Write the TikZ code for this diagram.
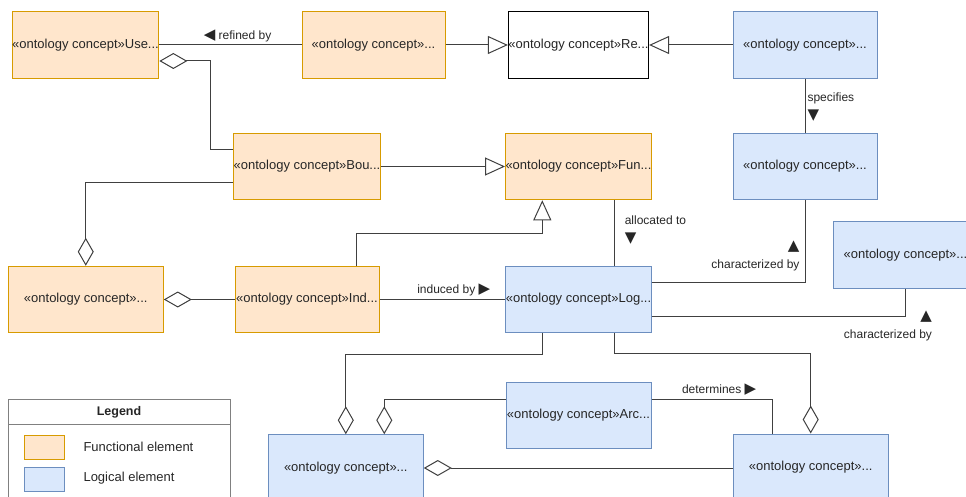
\documentclass[tikz,border=0pt]{standalone}
\usepackage{fontspec}
\setmainfont{Liberation Sans}
\newfontfamily\arrowfont{DejaVu Sans}
\usetikzlibrary{arrows.meta,positioning,calc}

\definecolor{funfill}{HTML}{FFE6CC}
\definecolor{fundraw}{HTML}{D79B00}
\definecolor{logfill}{HTML}{DAE8FC}
\definecolor{logdraw}{HTML}{6C8EBF}
\definecolor{linecol}{HTML}{404040}
\definecolor{txtcol}{HTML}{262626}

\newcommand{\tleft}{{\arrowfont\fontsize{15}{18}\selectfont\char"25C0}}
\newcommand{\tright}{{\arrowfont\fontsize{15}{18}\selectfont\char"25B6}}
\newcommand{\tup}{{\arrowfont\fontsize{15}{18}\selectfont\char"25B2}}
\newcommand{\tdown}{{\arrowfont\fontsize{15}{18}\selectfont\char"25BC}}

\begin{document}
\begin{tikzpicture}[x=1pt,y=-1pt,
	concept/.style={draw,line width=1pt,minimum width=145pt,minimum height=66.5pt,inner sep=0pt,text=txtcol,font=\fontsize{13}{15}\selectfont},
	funcbox/.style={concept,fill=funfill,draw=fundraw},
	logbox/.style={concept,fill=logfill,draw=logdraw},
	rel/.style={draw=linecol,line width=1pt},
	gen/.style={rel,-{Triangle[open,length=20pt,width=18pt]}},
	aggr/.style={rel,{Diamond[open,length=28pt,width=16pt]}-},
	aggrend/.style={rel,-{Diamond[open,length=28pt,width=16pt]}},
	lbl/.style={text=txtcol,font=\fontsize{12}{18}\selectfont,inner sep=2pt}]
	\useasboundingbox (0,0) rectangle (966,497);
	\clip (0,0) rectangle (966,497);

	\node[funcbox] (use) at (85.5,45) {«ontology concept»Use...};
	\node[funcbox,minimum width=143pt] (ref) at (373.5,45) {«ontology concept»...};
	\node[concept,draw=black,fill=white,minimum width=133pt] (re) at (578.5,45) {«ontology concept»Re...};
	\node[logbox,minimum width=144pt] (spec) at (805,45) {«ontology concept»...};

	\node[funcbox,minimum width=144pt] (bou) at (307,166.5) {«ontology concept»Bou...};
	\node[funcbox] (fun) at (578.5,166.5) {«ontology concept»Fun...};
	\node[logbox,minimum width=144pt] (char1) at (805,166.5) {«ontology concept»...};

	\node[funcbox,minimum width=155pt] (uc) at (85.75,299.5) {«ontology concept»...};
	\node[funcbox,minimum width=144pt] (ind) at (307,299.5) {«ontology concept»Ind...};
	\node[logbox] (logel) at (578.5,299.5) {«ontology concept»Log...};
	\node[logbox] (char2) at (905.5,255) {«ontology concept»...};

	\node[logbox] (arc) at (578.5,415.5) {«ontology concept»Arc...};
	\node[logbox,minimum width=155pt] (lcomp) at (345.8,468) {«ontology concept»...};
	\node[logbox,minimum width=155pt] (rcomp) at (810.7,467.3) {«ontology concept»...};

	\draw[rel] (use.east) -- (ref.west) node[lbl,pos=0.55,above=1pt] (refby) {\tleft\ refined by};
	\draw[gen] (ref.east) -- (re.west);
	\draw[gen] (spec.west) -- (re.east);
	\draw[rel] (spec.south) -- (char1.north) node[lbl,pos=0.53,right,align=left] (specs) {specifies\\\tdown};
	\draw[aggr] ($(use.east)+(0,16)$) -| ($(bou.west)+(-22.3,-16.5)$) -- ($(bou.west)+(0,-16.5)$);
	\draw[gen] (bou.east) -- (fun.west);
	\draw[aggrend] ($(bou.west)+(0,16)$) -| (uc.north);
	\draw[aggrend] (ind.west) -- (uc.east);
	\draw[gen] ($(ind.north)+(49.7,0)$) |- ($(fun.south)+(-36.2,33.3)$) -- ($(fun.south)+(-36.2,0)$);
	\draw[rel] (ind.east) -- (logel.west) node[lbl,pos=0.59,above=1pt] (indby) {induced by \tright};
	\draw[rel] ($(fun.south)+(35.8,0)$) -- ($(logel.north)+(35.8,0)$) node[lbl,pos=0.46,right=8pt,align=left] (alloc) {allocated to\\\tdown};
	\draw[rel] ($(logel.east)+(0,-17)$) -| (char1.south) node[lbl,pos=0.5,above left=9pt and 3pt,align=right] (charby1) {\tup\\characterized by};
	\draw[rel] ($(logel.east)+(0,16.5)$) -| (char2.south) node[lbl,pos=0.5,anchor=north east,xshift=29pt,yshift=8pt,align=right] (charby2) {\tup\\characterized by};
	\draw[aggrend] ($(logel.south)+(-36.2,0)$) |- ($(lcomp.north)+(0,-80)$) -- (lcomp.north);
	\draw[aggrend] ($(arc.west)+(0,-16.5)$) -| ($(lcomp.north)+(38.5,0)$);
	\draw[rel] ($(arc.east)+(0,-16.5)$) -| ($(rcomp.north)+(-38.4,0)$) node[lbl,pos=0.28,above=1pt] (determ) {determines \tright};
	\draw[aggrend] ($(logel.south)+(35.8,0)$) |- ($(rcomp.north)+(0,-80)$) -- (rcomp.north);
	\draw[aggr] (lcomp.east) -- (lcomp.east -| rcomp.west);

	% legend
	\draw[draw=gray,line width=1pt] (8.3,399) rectangle (230,520);
	\draw[draw=gray,line width=1pt] (8.3,424.3) -- (230,424.3);
	\node[text=txtcol,font=\bfseries\fontsize{12.5}{15}\selectfont] (legend) at (119,412) {Legend};
	\node[draw=fundraw,fill=funfill,line width=1pt,minimum width=40pt,minimum height=24pt] (swfun) at (44.3,447) {};
	\node[draw=logdraw,fill=logfill,line width=1pt,minimum width=40pt,minimum height=24pt] (swlog) at (44.3,479) {};
	\node[anchor=west,text=txtcol,font=\fontsize{13}{15}\selectfont] (txfun) at (80,447) {Functional element};
	\node[anchor=west,text=txtcol,font=\fontsize{13}{15}\selectfont] (txlog) at (80,478) {Logical element};
\end{tikzpicture}
\end{document}
